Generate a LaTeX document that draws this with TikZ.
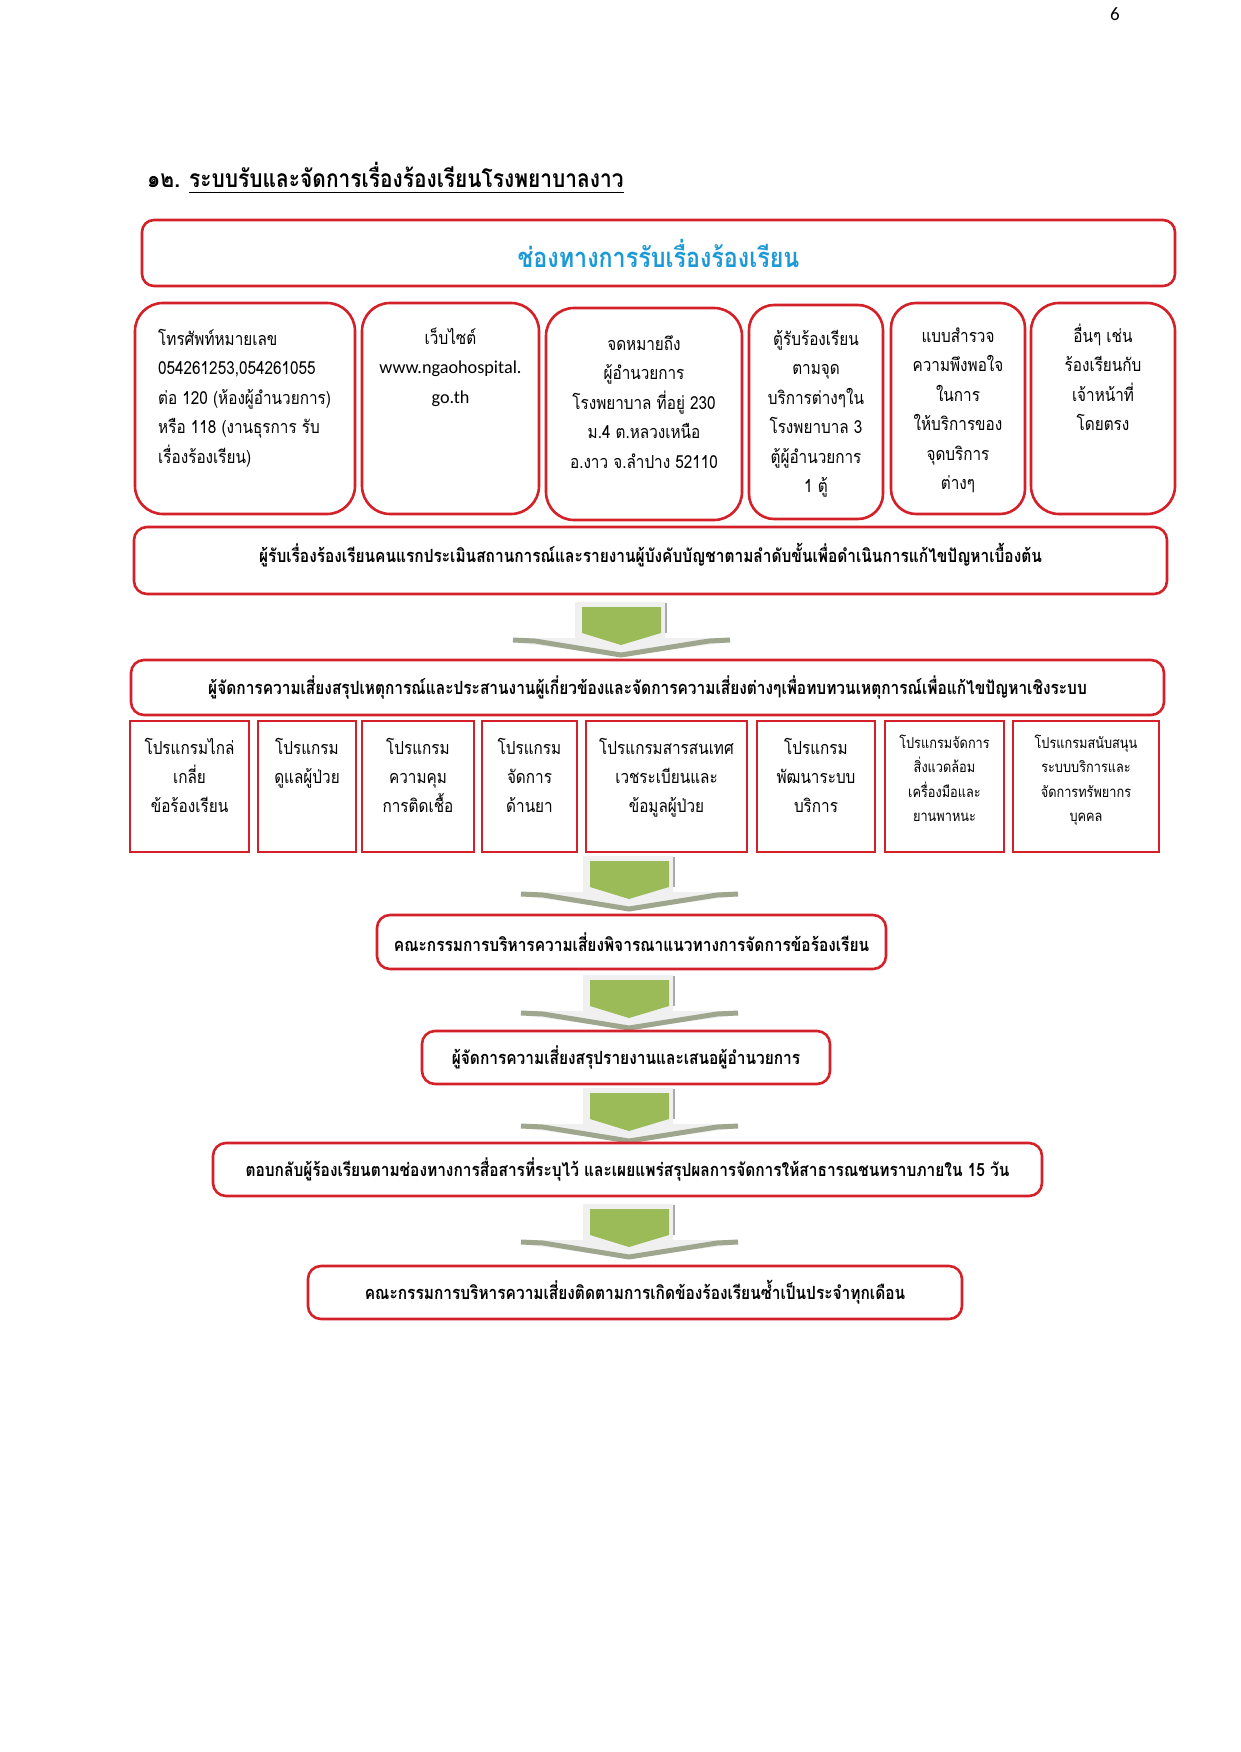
\documentclass[tikz,border=0pt]{standalone}
\usepackage{fontspec}
\setmainfont[Script=Thai,FakeStretch=0.85]{Loma}
\newfontfamily\latfont{Carlito}
\definecolor{boxred}{RGB}{212,32,40}
\definecolor{headblue}{RGB}{28,154,215}
\definecolor{agreen}{RGB}{155,187,89}
\definecolor{awing}{RGB}{158,166,142}
\definecolor{apanel}{RGB}{240,240,240}
\definecolor{aline}{RGB}{170,170,170}
\newcommand\regtxt{\fontsize{18}{29.5}\selectfont}
\newcommand\smalltxt{\fontsize{15}{24.5}\selectfont}
\newcommand\boldtxt{\fontsize{18.2}{24}\selectfont\bfseries}
\newcommand\hdtxt{\fontsize{27.4}{30}\selectfont\bfseries}
\newcommand\titletxt{\fontsize{24.6}{28}\selectfont\bfseries}
\newcommand\firstrule{\rule{0pt}{24pt}}
\tikzset{
  rbox/.style={draw=boxred, line width=2.6pt, rounded corners=28pt, inner sep=0pt},
  bbox/.style={draw=boxred, line width=2.6pt, rounded corners=13pt, inner sep=0pt, font=\boldtxt},
  pbox/.style={draw=boxred, line width=2.8pt, inner sep=0pt, minimum height=131pt},
  txt/.style={inner sep=0pt, align=center, font=\regtxt, anchor=north},
  stxt/.style={inner sep=0pt, align=center, font=\smalltxt, anchor=north},
  pics/blockarrow/.style={code={
    \fill[apanel] (-46,0) -- (44,0) -- (44,36) -- (109,36) -- (109,40) -- (0,54) -- (-108,40) -- (-108,36) -- (-46,36) -- cycle;
    \fill[agreen] (-39,5) -- (40,5) -- (40,31) -- (0,43) -- (-39,31) -- cycle;
    \draw[awing, line width=5pt, line join=round] (-108,38) -- (-86,39) -- (0,53) -- (88,39) -- (109,38);
    \draw[aline, line width=1.5pt] (45,1) -- (45,31);
  }}
}
\begin{document}
\begin{tikzpicture}[x=1pt,y=-1pt]
\useasboundingbox (0,0) rectangle (1240,1752);
\fill[white] (0,0) rectangle (1240,1752);

% page number
\node[inner sep=0pt, anchor=base, font=\latfont\fontsize{19}{20}\selectfont] (pg) at (1115,21) {6};

% title
\node[inner sep=0pt, anchor=base west, font=\titletxt] (tnum) at (147,188) {๑๒.};
\node[inner sep=0pt, anchor=base west, font=\titletxt] (ttl) at (189,188) {ระบบรับและจัดการเรื่องร้องเรียนโรงพยาบาลงาว};
\draw[line width=1.4pt] ([yshift=-4.5pt]ttl.base west) -- ([yshift=-4.5pt]ttl.base east);

% header
\node[bbox, rounded corners=12pt, minimum width=1033pt, minimum height=66pt, font=\hdtxt, text=headblue] (hdr) at (658.5,253) {ช่องทางการรับเรื่องร้องเรียน};

% channel boxes
\node[rbox, minimum width=220pt, minimum height=211pt] (t1) at (245,408.5) {};
\node[rbox, minimum width=177pt, minimum height=211pt] (t2) at (450.5,408.5) {};
\node[rbox, minimum width=196pt, minimum height=212pt] (t3) at (644,414) {};
\node[rbox, rounded corners=25pt, minimum width=134pt, minimum height=214pt] (t4) at (816,412) {};
\node[rbox, rounded corners=25pt, minimum width=134pt, minimum height=211pt] (t5) at (958,408.5) {};
\node[rbox, minimum width=144pt, minimum height=211pt] (t6) at (1103,408.5) {};

\node[txt, anchor=north west, align=left] (t1x) at (158,321) {\firstrule โทรศัพท์หมายเลข\\054261253,054261055\\ต่อ 120 (ห้องผู้อำนวยการ)\\หรือ 118 (งานธุรการ รับ\\เรื่องร้องเรียน)};
\node[txt] (t2x) at (450.5,320) {\firstrule เว็บไซต์\\{\latfont\fontsize{18.2}{29.5}\selectfont www.ngaohospital.}\\{\latfont\fontsize{18.2}{29.5}\selectfont go.th}};
\node[txt] (t3x) at (644,326) {\firstrule จดหมายถึง\\ผู้อำนวยการ\\โรงพยาบาล ที่อยู่ 230\\ม.4 ต.หลวงเหนือ\\อ.งาว จ.ลำปาง 52110};
\node[txt] (t4x) at (816,321) {\firstrule ตู้รับร้องเรียน\\ตามจุด\\บริการต่างๆใน\\โรงพยาบาล 3\\ตู้ผู้อำนวยการ\\1 ตู้};
\node[txt] (t5x) at (958,318) {\firstrule แบบสำรวจ\\ความพึงพอใจ\\ในการ\\ให้บริการของ\\จุดบริการ\\ต่างๆ};
\node[txt] (t6x) at (1103,318) {\firstrule อื่นๆ เช่น\\ร้องเรียนกับ\\เจ้าหน้าที่\\โดยตรง};

% band 1
\node[bbox, minimum width=1033pt, minimum height=67pt] (b1) at (650.5,560.5) {};
\node[inner sep=0pt, font=\boldtxt] (b1x) at (650.5,555) {ผู้รับเรื่องร้องเรียนคนแรกประเมินสถานการณ์และรายงานผู้บังคับบัญชาตามลำดับขั้นเพื่อดำเนินการแก้ไขปัญหาเบื้องต้น};

\pic (a1) at (621,602) {blockarrow};

% band 2
\node[bbox, minimum width=1033pt, minimum height=55pt] (b2) at (647.5,687.5) {ผู้จัดการความเสี่ยงสรุปเหตุการณ์และประสานงานผู้เกี่ยวข้องและจัดการความเสี่ยงต่างๆเพื่อทบทวนเหตุการณ์เพื่อแก้ไขปัญหาเชิงระบบ};

% program boxes
\node[pbox, minimum width=119pt] (p1) at (189.5,786.5) {};
\node[pbox, minimum width=98pt] (p2) at (307,786.5) {};
\node[pbox, minimum width=112pt] (p3) at (418,786.5) {};
\node[pbox, minimum width=95pt] (p4) at (529.5,786.5) {};
\node[pbox, minimum width=161pt] (p5) at (666.5,786.5) {};
\node[pbox, minimum width=118pt] (p6) at (816,786.5) {};
\node[pbox, minimum width=119pt] (p7) at (944.5,786.5) {};
\node[pbox, minimum width=146pt] (p8) at (1086,786.5) {};

\node[txt, font=\fontsize{18}{29}\selectfont] (p1x) at (189.5,730) {\firstrule โปรแกรมไกล่\\เกลี่ย\\ข้อร้องเรียน};
\node[txt, font=\fontsize{18}{29}\selectfont] (p2x) at (307,730) {\firstrule โปรแกรม\\ดูแลผู้ป่วย};
\node[txt, font=\fontsize{18}{29}\selectfont] (p3x) at (418,730) {\firstrule โปรแกรม\\ความคุม\\การติดเชื้อ};
\node[txt, font=\fontsize{18}{29}\selectfont] (p4x) at (529.5,730) {\firstrule โปรแกรม\\จัดการ\\ด้านยา};
\node[txt, font=\fontsize{18}{29}\selectfont] (p5x) at (666.5,730) {\firstrule โปรแกรมสารสนเทศ\\เวชระเบียนและ\\ข้อมูลผู้ป่วย};
\node[txt, font=\fontsize{18}{29}\selectfont] (p6x) at (816,730) {\firstrule โปรแกรม\\พัฒนาระบบ\\บริการ};
\node[stxt] (p7x) at (944.5,726) {\rule{0pt}{22pt}โปรแกรมจัดการ\\สิ่งแวดล้อม\\เครื่องมือและ\\ยานพาหนะ};
\node[stxt] (p8x) at (1086,726) {\rule{0pt}{22pt}โปรแกรมสนับสนุน\\ระบบบริการและ\\จัดการทรัพยากร\\บุคคล};

\pic (a2) at (629,856) {blockarrow};

\node[bbox, minimum width=509pt, minimum height=54pt] (b3) at (631.5,942) {คณะกรรมการบริหารความเสี่ยงพิจารณาแนวทางการจัดการข้อร้องเรียน};

\pic (a3) at (629,975) {blockarrow};

\node[bbox, minimum width=408pt, minimum height=53pt] (b4) at (626,1057.5) {ผู้จัดการความเสี่ยงสรุปรายงานและเสนอผู้อำนวยการ};

\pic (a4) at (629,1088) {blockarrow};

\node[bbox, minimum width=829pt, minimum height=53pt] (b5) at (627.5,1169.5) {ตอบกลับผู้ร้องเรียนตามช่องทางการสื่อสารที่ระบุไว้ และเผยแพร่สรุปผลการจัดการให้สาธารณชนทราบภายใน 15 วัน};

\pic (a5) at (629,1204) {blockarrow};

\node[bbox, minimum width=654pt, minimum height=53pt] (b6) at (635,1292.5) {คณะกรรมการบริหารความเสี่ยงติดตามการเกิดข้องร้องเรียนซ้ำเป็นประจำทุกเดือน};
\end{tikzpicture}
\end{document}
